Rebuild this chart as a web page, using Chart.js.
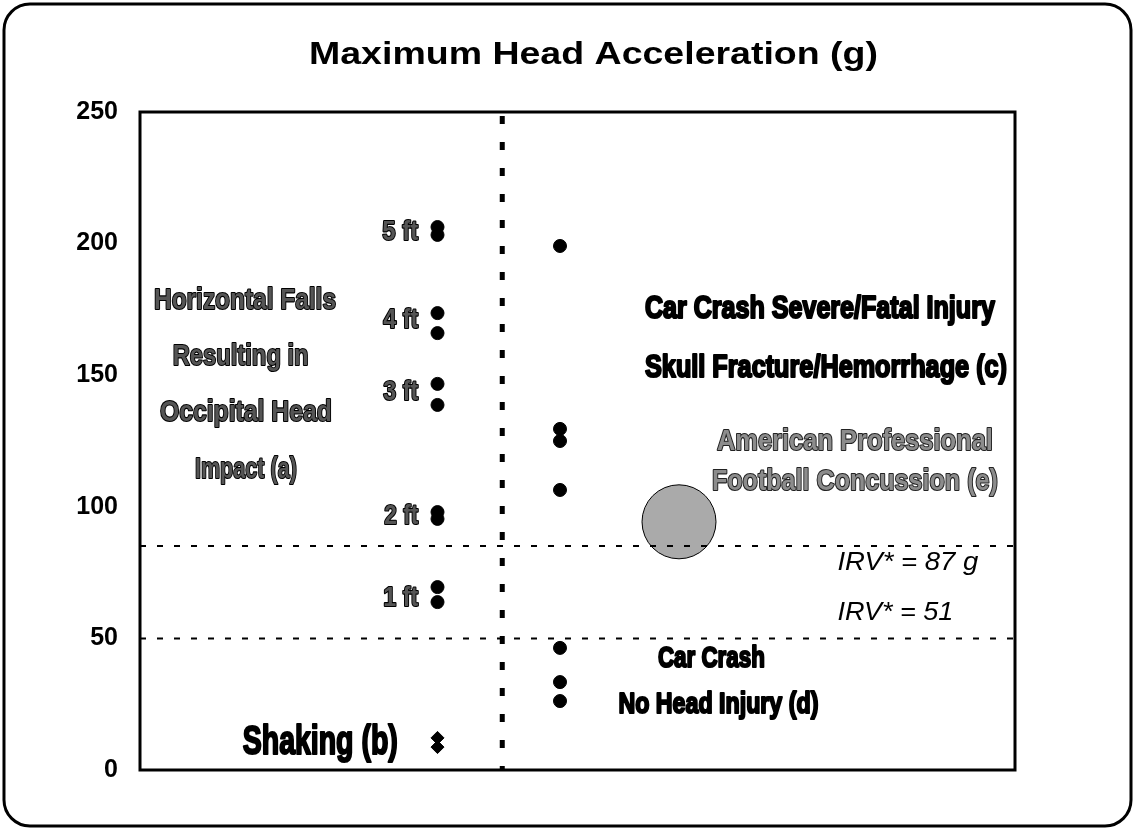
<!DOCTYPE html>
<html>
<head>
<meta charset="utf-8">
<script src="https://cdn.jsdelivr.net/npm/chart.js@4.4.0/dist/chart.umd.min.js"></script>
<style>
  html, body { margin: 0; padding: 0; background: #fff; }
  #wrap { width: 1135px; height: 830px; }
</style>
</head>
<body>
<div id="wrap"><canvas id="grafico" width="1135" height="830"></canvas></div>
<script>
// valores (g)
const quedas = [206.3, 203.3, 173.6, 166.0, 146.7, 138.7, 98.0, 95.4, 69.5, 63.8];
const sacudir = [12.2, 8.7];
const acidentes = [199.1, 129.6, 125.0, 106.4, 46.4, 33.4, 26.2];
const futebol = [94.3];
const limiares = [85.1, 50];
const yTicks = [0, 50, 100, 150, 200, 250];

// posicoes horizontais das colunas (escala 0-100)
const xQuedas = 34;
const xAcidentes = 48;
const xDivisor = 41.4;
const xFutebol = 61.6;

const titulo = 'Maximum Head Acceleration (g)';

function pontos(xv, arr) {
  return arr.map(v => ({ x: xv, y: v }));
}

// textos do grafico: x,y em unidades dos eixos (y = linha de base), w = largura alvo em px
const cinza = { fill: '#555', stroke: '#000' };
const preto = { fill: '#000', stroke: '#000' };
const claro = { fill: '#8c8c8c', stroke: '#222' };
const textos = [
  { t: 'Horizontal Falls', x: 12.0, y: 175.2, w: 182, size: 30, c: cinza },
  { t: 'Resulting in', x: 11.5, y: 153.9, w: 136, size: 30, c: cinza },
  { t: 'Occipital Head', x: 12.1, y: 132.6, w: 172, size: 30, c: cinza },
  { t: 'Impact (a)', x: 12.1, y: 110.9, w: 102, size: 30, c: cinza },
  { t: '5 ft', x: 31.8, y: 201.4, w: 36, size: 27, c: cinza, align: 'right' },
  { t: '4 ft', x: 31.8, y: 167.9, w: 35, size: 27, c: cinza, align: 'right' },
  { t: '3 ft', x: 31.8, y: 140.6, w: 35, size: 27, c: cinza, align: 'right' },
  { t: '2 ft', x: 31.8, y: 93.3, w: 34, size: 27, c: cinza, align: 'right' },
  { t: '1 ft', x: 31.8, y: 62.5, w: 35, size: 27, c: cinza, align: 'right' },
  { t: 'Shaking (b)', x: 20.6, y: 6.1, w: 155, size: 40, c: preto },
  { t: 'Car Crash Severe/Fatal Injury', x: 77.7, y: 171.7, w: 350, size: 31, c: preto },
  { t: 'Skull Fracture/Hemorrhage (c)', x: 78.4, y: 149.3, w: 362, size: 31, c: preto },
  { t: 'American Professional', x: 81.7, y: 121.6, w: 276, size: 30, c: claro },
  { t: 'Football Concussion (e)', x: 81.7, y: 106.4, w: 286, size: 30, c: claro },
  { t: 'Car Crash', x: 65.3, y: 39.1, w: 107, size: 30, c: preto },
  { t: 'No Head Injury (d)', x: 66.1, y: 21.7, w: 200, size: 30, c: preto },
  { t: 'IRV* = 87 g', x: 79.7, y: 76.0, w: 141, size: 25, italic: true, align: 'left' },
  { t: 'IRV* = 51', x: 79.7, y: 57.0, w: 116, size: 25, italic: true, align: 'left' }
];

// desenha texto esticado/comprimido ate a largura alvo
function textoAjustado(ctx, o, px, py) {
  ctx.save();
  ctx.font = (o.italic ? 'italic ' : 'bold ') + o.size + 'px "Liberation Sans", Arial, sans-serif';
  const sx = o.w / ctx.measureText(o.t).width;
  ctx.translate(px, py);
  ctx.scale(sx, 1);
  ctx.textBaseline = 'alphabetic';
  ctx.textAlign = o.align || 'center';
  if (o.c) {
    ctx.lineJoin = 'round';
    ctx.lineWidth = 2.2;
    ctx.strokeStyle = o.c.stroke;
    ctx.strokeText(o.t, 0, 0);
    ctx.fillStyle = o.c.fill;
  } else {
    ctx.fillStyle = '#000';
  }
  ctx.fillText(o.t, 0, 0);
  ctx.restore();
}

const molduraPlugin = {
  id: 'moldura',
  beforeDraw(chart) {
    const ctx = chart.ctx;
    ctx.save();
    ctx.fillStyle = '#fff';
    ctx.fillRect(0, 0, chart.width, chart.height);
    ctx.strokeStyle = '#000';
    ctx.lineWidth = 3;
    ctx.beginPath();
    ctx.roundRect(4, 4, chart.width - 8, chart.height - 8, 26);
    ctx.stroke();
    ctx.restore();
  },
  afterDatasetsDraw(chart) {
    const ctx = chart.ctx;
    const a = chart.chartArea;
    const sx = chart.scales.x, sy = chart.scales.y;
    ctx.save();
    ctx.strokeStyle = '#000';
    ctx.lineWidth = 3;
    ctx.strokeRect(a.left, a.top, a.right - a.left, a.bottom - a.top);
    ctx.restore();

    // titulo
    textoAjustado(ctx, { t: titulo, w: 569, size: 32, c: null }, (a.left + a.right) / 2 + 16, 64);

    textos.forEach(o => {
      textoAjustado(ctx, o, sx.getPixelForValue(o.x), sy.getPixelForValue(o.y));
    });
  }
};

const ctx = document.getElementById('grafico').getContext('2d');

new Chart(ctx, {
  type: 'scatter',
  data: {
    datasets: [
      {
        label: 'Linha 87',
        data: [{ x: 0, y: limiares[0] }, { x: 100, y: limiares[0] }],
        showLine: true,
        borderColor: '#000',
        borderWidth: 2,
        borderDash: [6, 11],
        pointRadius: 0
      },
      {
        label: 'Linha 51',
        data: [{ x: 0, y: limiares[1] }, { x: 100, y: limiares[1] }],
        showLine: true,
        borderColor: '#000',
        borderWidth: 2,
        borderDash: [6, 11],
        pointRadius: 0
      },
      {
        label: 'Divisor',
        data: [{ x: xDivisor, y: 0 }, { x: xDivisor, y: 250 }],
        showLine: true,
        borderColor: '#000',
        borderWidth: 5,
        borderDash: [8, 18],
        borderDashOffset: 4,
        pointRadius: 0
      },
      {
        label: 'Futebol (e)',
        data: pontos(xFutebol, futebol),
        pointRadius: 37,
        backgroundColor: '#aaaaaa',
        borderColor: '#000',
        borderWidth: 1
      },
      {
        label: 'Quedas (a)',
        data: pontos(xQuedas, quedas),
        pointRadius: 6.5,
        backgroundColor: '#000',
        borderColor: '#000'
      },
      {
        label: 'Sacudir (b)',
        data: pontos(xQuedas, sacudir),
        pointStyle: 'rectRot',
        pointRadius: 6.5,
        backgroundColor: '#000',
        borderColor: '#000'
      },
      {
        label: 'Acidentes (c, d)',
        data: pontos(xAcidentes, acidentes),
        pointRadius: 6.5,
        backgroundColor: '#000',
        borderColor: '#000'
      }
    ]
  },
  options: {
    responsive: false,
    animation: false,
    events: [],
    layout: {
      padding: { left: 0, right: 120, bottom: 60, top: 112 }
    },
    scales: {
      x: {
        type: 'linear',
        min: 0,
        max: 100,
        display: false
      },
      y: {
        min: 0,
        max: 250,
        afterBuildTicks: (s) => { s.ticks = yTicks.map(v => ({ value: v })); },
        afterFit: (s) => { s.width = 140; },
        grid: { display: false, drawTicks: false },
        border: { display: false },
        ticks: {
          padding: 22,
          color: '#000',
          font: { family: '"Liberation Sans", Arial, sans-serif', size: 25, weight: 'bold' }
        }
      }
    },
    plugins: {
      legend: { display: false },
      tooltip: { enabled: false },
      title: { display: false }
    }
  },
  plugins: [molduraPlugin]
});
</script>
</body>
</html>
